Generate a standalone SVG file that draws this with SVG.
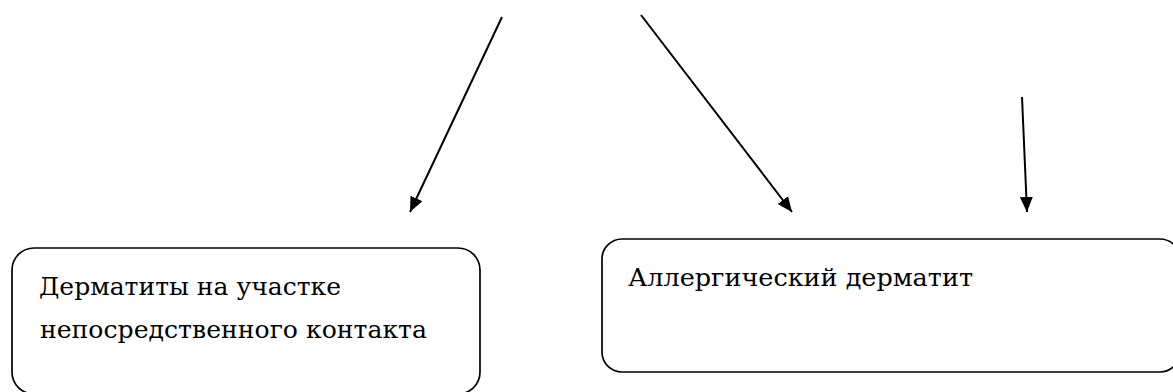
<svg xmlns="http://www.w3.org/2000/svg" width="1173" height="392" viewBox="0 0 1173 392">
<style>
.box{fill:#fff;stroke:#000;stroke-width:1.7}
.lbl{font-family:'DejaVu Serif','Liberation Serif',serif;font-size:25px;fill:#000}
.conn{stroke:#000;stroke-width:2;fill:none}
</style>
<defs>
<marker id="ah" viewBox="0 0 15 13" refX="15" refY="6.5" markerWidth="15" markerHeight="13" markerUnits="userSpaceOnUse" orient="auto">
<path d="M0,0 L15,6.5 L0,13 Z" fill="#000"/>
</marker>
</defs>
<rect width="1173" height="392" fill="#fff"/>
<g id="connectors">
<line class="conn" x1="502" y1="17" x2="410" y2="212" marker-end="url(#ah)"/>
<line class="conn" x1="641" y1="15" x2="792" y2="212" marker-end="url(#ah)"/>
<line class="conn" x1="1022" y1="97" x2="1027" y2="212" marker-end="url(#ah)"/>
</g>
<g id="node1">
<rect class="box" x="12" y="248" width="468" height="146" rx="22"/>
<text class="lbl" x="39" y="294.5" textLength="302" lengthAdjust="spacingAndGlyphs">Дерматиты на участке</text>
<text class="lbl" x="40" y="337.5" textLength="387" lengthAdjust="spacingAndGlyphs">непосредственного контакта</text>
</g>
<g id="node2">
<rect class="box" x="602" y="239" width="578" height="133" rx="20"/>
<text class="lbl" x="628" y="286" textLength="345" lengthAdjust="spacingAndGlyphs">Аллергический дерматит</text>
</g>
</svg>
